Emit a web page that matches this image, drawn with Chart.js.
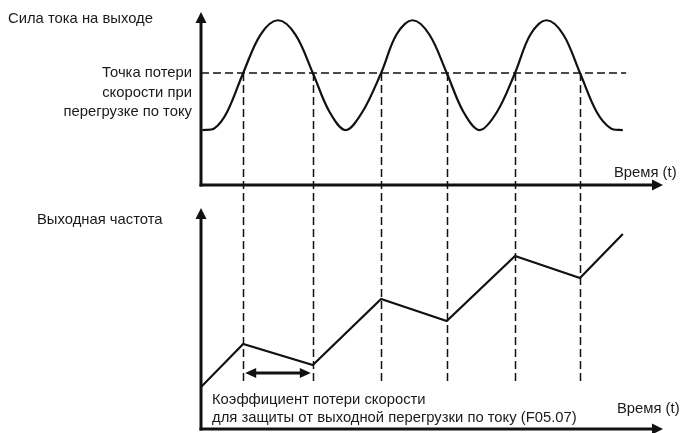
<!DOCTYPE html>
<html>
<head>
<meta charset="utf-8">
<script src="https://cdn.jsdelivr.net/npm/chart.js@4/dist/chart.umd.min.js"></script>
<style>
  html, body { margin: 0; padding: 0; background: #fff; }
  #wrap { position: relative; width: 681px; height: 433px; overflow: hidden; }
  #chart { position: absolute; left: 0; top: 0; }
  .lbl {
    position: absolute;
    font-family: "Liberation Sans", Arial, sans-serif;
    font-size: 14.8px;
    line-height: 16px;
    color: #1a1a1a;
    white-space: nowrap;
  }
  .stall { text-align: right; line-height: 19.5px; }
</style>
</head>
<body>
<div id="wrap">
  <canvas id="chart" width="681" height="433"></canvas>
  <div class="lbl" style="left:8px; top:10px;">Сила тока на выходе</div>
  <div class="lbl stall" style="right:489px; top:63px;">Точка потери<br>скорости при<br>перегрузке по току</div>
  <div class="lbl" style="left:614px; top:164px;">Время (t)</div>
  <div class="lbl" style="left:37px; top:211px;">Выходная частота</div>
  <div class="lbl" style="left:212px; top:390px; line-height:18px;">Коэффициент потери скорости<br>для защиты от выходной перегрузки по току (F05.07)</div>
  <div class="lbl" style="left:617px; top:400px;">Время (t)</div>
</div>
<script>
// time axis (one unit = half a period of the current wave)
const T_MAX = 6.9;

// output current
const currentT = [0.02, 0.2, 0.39, 0.63, 0.89, 1.15, 1.41, 1.67, 1.92, 2.16, 2.41, 2.69, 2.92,
  3.16, 3.41, 3.67, 3.92, 4.16, 4.42, 4.69, 4.92, 5.16, 5.41, 5.66, 5.91, 6.12, 6.3];
const currentVals = [1.0, 1.03, 1.33, 2.04, 2.74, 3.0, 2.74, 2.04, 1.33, 1.0, 1.33, 2.04, 2.74,
  3.0, 2.74, 2.04, 1.33, 1.0, 1.33, 2.04, 2.74, 3.0, 2.74, 2.04, 1.33, 1.03, 1.0];

// stall point threshold (dashed horizontal)
const stallLevel = 2.04;
const stallLineT = [0, 6.35];

// moments the current crosses the stall level
const crossT = [0.63, 1.67, 2.69, 3.67, 4.69, 5.66];

// output frequency
const freqT = [0, 0.63, 1.67, 2.69, 3.67, 4.69, 5.66, 6.3];
const freqVals = [10.5, 21.25, 16, 32.5, 27, 43.25, 37.75, 48.75];

// axis ranges
const topMin = -0.2, topMax = 3.15, topArrow = 3.15;
const botMin = 0, botMax = 58.25, botArrow = 55.25;
const dropEnd = 11.5;      // where the vertical dashes stop (bottom panel units)
const spanLevel = 14;      // level of the double arrow (bottom panel units)

const INK = "#111";

function arrowHead(ctx, x, y, dir, len, half) {
  ctx.beginPath();
  if (dir === "up") {
    ctx.moveTo(x, y); ctx.lineTo(x - half, y + len); ctx.lineTo(x + half, y + len);
  } else if (dir === "right") {
    ctx.moveTo(x, y); ctx.lineTo(x - len, y - half); ctx.lineTo(x - len, y + half);
  } else {
    ctx.moveTo(x, y); ctx.lineTo(x + len, y - half); ctx.lineTo(x + len, y + half);
  }
  ctx.closePath();
  ctx.fill();
}

const diagram = {
  id: "diagram",
  beforeDatasetsDraw(chart) {
    const { ctx, scales } = chart;
    const x = scales.x, yt = scales.yTop, yb = scales.yBot;
    ctx.save();
    ctx.strokeStyle = INK;
    ctx.lineWidth = 1.5;
    ctx.setLineDash([8, 4]);
    const y0 = yt.getPixelForValue(stallLevel);
    const y1 = yb.getPixelForValue(dropEnd);
    crossT.forEach((t) => {
      const px = Math.round(x.getPixelForValue(t)) + 0.5;
      ctx.beginPath();
      ctx.moveTo(px, y0);
      ctx.lineTo(px, y1);
      ctx.stroke();
    });
    ctx.restore();
  },
  afterDatasetsDraw(chart) {
    const { ctx, scales } = chart;
    const x = scales.x, yt = scales.yTop, yb = scales.yBot;
    ctx.save();
    ctx.strokeStyle = INK;
    ctx.fillStyle = INK;
    ctx.lineWidth = 3;
    ctx.lineCap = "butt";

    const ax = x.getPixelForValue(0);
    const tipX = x.getPixelForValue(T_MAX);
    [[yt, 0, topArrow], [yb, 0, botArrow]].forEach(([s, zero, top]) => {
      const base = s.getPixelForValue(zero);
      const tipY = s.getPixelForValue(top);
      ctx.beginPath();
      ctx.moveTo(ax, base + 1.5);
      ctx.lineTo(ax, tipY + 8);
      ctx.stroke();
      arrowHead(ctx, ax, tipY, "up", 11, 5.5);
      ctx.beginPath();
      ctx.moveTo(ax - 1.5, base);
      ctx.lineTo(tipX - 8, base);
      ctx.stroke();
      arrowHead(ctx, tipX, base, "right", 11, 5.5);
    });

    // double arrow for the stall coefficient
    const ay = yb.getPixelForValue(spanLevel);
    const a0 = x.getPixelForValue(crossT[0]) + 2;
    const a1 = x.getPixelForValue(crossT[1]) - 2;
    ctx.beginPath();
    ctx.moveTo(a0 + 8, ay);
    ctx.lineTo(a1 - 8, ay);
    ctx.stroke();
    arrowHead(ctx, a0, ay, "left", 11, 5);
    arrowHead(ctx, a1, ay, "right", 11, 5);
    ctx.restore();
  },
};

const pts = (ts, vs) => ts.map((t, i) => ({ x: t, y: vs[i] }));

new Chart(document.getElementById("chart"), {
  type: "line",
  data: {
    datasets: [
      {
        data: pts(stallLineT, [stallLevel, stallLevel]),
        yAxisID: "yTop",
        borderColor: INK,
        borderWidth: 1.5,
        borderDash: [8, 4],
        pointRadius: 0,
      },
      {
        data: pts(currentT, currentVals),
        yAxisID: "yTop",
        borderColor: INK,
        borderWidth: 2.2,
        tension: 0.35,
        pointRadius: 0,
      },
      {
        data: pts(freqT, freqVals),
        yAxisID: "yBot",
        borderColor: INK,
        borderWidth: 2.2,
        tension: 0,
        pointRadius: 0,
      },
    ],
  },
  options: {
    responsive: false,
    animation: false,
    devicePixelRatio: 1,
    events: [],
    layout: { padding: { left: 201, top: 12, right: 18, bottom: 4 } },
    plugins: { legend: { display: false }, tooltip: { enabled: false } },
    scales: {
      x: { type: "linear", min: 0, max: T_MAX, display: false },
      // left boxes are stacked in reverse order, so the lower panel comes first
      yBot: {
        type: "linear", position: "left", stack: "panels", stackWeight: 233,
        min: botMin, max: botMax, display: false,
      },
      yTop: {
        type: "linear", position: "left", stack: "panels", stackWeight: 184,
        min: topMin, max: topMax, display: false,
      },
    },
  },
  plugins: [diagram],
});
</script>
</body>
</html>
